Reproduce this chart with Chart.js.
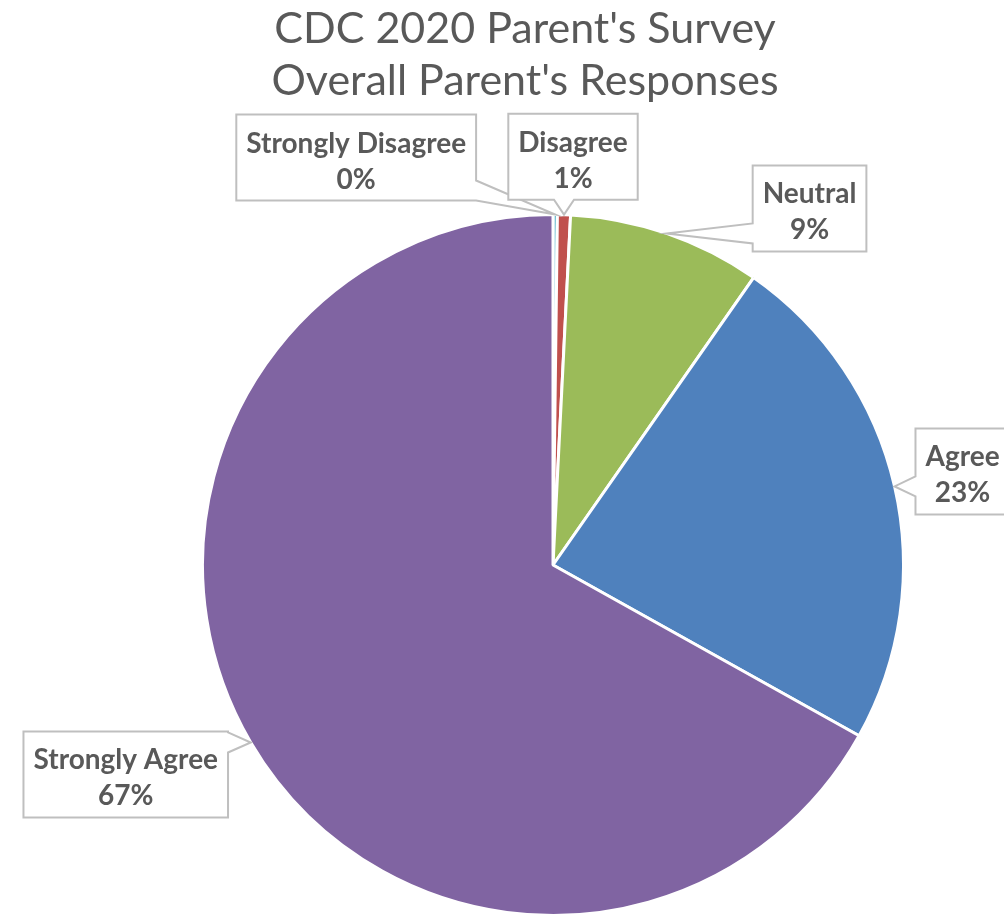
<!DOCTYPE html>
<html>
<head>
<meta charset="utf-8">
<script src="https://cdn.jsdelivr.net/npm/chart.js@4/dist/chart.umd.min.js"></script>
<style>
  html, body { margin: 0; padding: 0; background: #ffffff; }
  #wrap { width: 1004px; height: 917px; position: relative; }
</style>
</head>
<body>
<div id="wrap"><canvas id="pieChart" width="1004" height="917"></canvas></div>
<script>
// Data
const titleLines = ["CDC 2020 Parent's Survey", "Overall Parent's Responses"];
const categories = ['Strongly Disagree', 'Disagree', 'Neutral', 'Agree', 'Strongly Agree'];
const responseShare = [0.2, 0.6, 8.9, 23.4, 66.9];
const sliceColors = ['#4BACC6', '#C0504D', '#9BBB59', '#4F81BD', '#8064A2'];

// where each callout box sits, relative to the slice edge it points at
const calloutOffsets = [[-199, -57], [9, -58], [143, -25], [68, -15], [-125, 32]];

const textGrey = '#595959';
const labelFont = 'bold 28px Lato, "Open Sans", sans-serif';

function drawCallout(ctx, box, tip) {
    const l = box.l, t = box.t, r = box.r, b = box.b;
    const w = 10;
    let side;
    if (tip.x >= l && tip.x <= r) side = tip.y < t ? 'top' : 'bottom';
    else if (tip.y >= t && tip.y <= b) side = tip.x < l ? 'left' : 'right';
    else {
        const dx = tip.x < l ? l - tip.x : tip.x - r;
        const dy = tip.y < t ? t - tip.y : tip.y - b;
        if (dx > dy) side = tip.x < l ? 'left' : 'right';
        else side = tip.y < t ? 'top' : 'bottom';
    }
    const cx = Math.min(Math.max(tip.x, l + w), r - w);
    const cy = Math.min(Math.max(tip.y, t + w), b - w);

    ctx.beginPath();
    ctx.moveTo(l, t);
    if (side === 'top') { ctx.lineTo(cx - w, t); ctx.lineTo(tip.x, tip.y); ctx.lineTo(cx + w, t); }
    ctx.lineTo(r, t);
    if (side === 'right') { ctx.lineTo(r, cy - w); ctx.lineTo(tip.x, tip.y); ctx.lineTo(r, cy + w); }
    ctx.lineTo(r, b);
    if (side === 'bottom') { ctx.lineTo(cx + w, b); ctx.lineTo(tip.x, tip.y); ctx.lineTo(cx - w, b); }
    ctx.lineTo(l, b);
    if (side === 'left') { ctx.lineTo(l, cy + w); ctx.lineTo(tip.x, tip.y); ctx.lineTo(l, cy - w); }
    ctx.closePath();
    ctx.fillStyle = '#ffffff';
    ctx.fill();
    ctx.lineWidth = 2;
    ctx.strokeStyle = '#bfbfbf';
    ctx.stroke();
}

// title + callout labels
const calloutPlugin = {
    id: 'callouts',
    afterDatasetsDraw(chart) {
        const ctx = chart.ctx;
        const meta = chart.getDatasetMeta(0);
        const total = responseShare.reduce((a, v) => a + v, 0);

        ctx.save();
        ctx.fillStyle = textGrey;
        ctx.textAlign = 'center';
        ctx.textBaseline = 'alphabetic';
        ctx.font = '43px Lato, "Open Sans", sans-serif';
        ctx.fillText(titleLines[0], 525, 43);
        ctx.fillText(titleLines[1], 525, 95);

        ctx.font = labelFont;
        meta.data.forEach((arc, i) => {
            const p = arc.getProps(['x', 'y', 'startAngle', 'endAngle', 'outerRadius'], true);
            const mid = (p.startAngle + p.endAngle) / 2;
            const tip = {
                x: p.x + Math.cos(mid) * p.outerRadius,
                y: p.y + Math.sin(mid) * p.outerRadius
            };
            const pct = Math.round(responseShare[i] / total * 100) + '%';
            const tw = Math.max(ctx.measureText(categories[i]).width, ctx.measureText(pct).width);
            const bw = tw + 20;
            const bh = 86;
            const bx = tip.x + calloutOffsets[i][0];
            const by = tip.y + calloutOffsets[i][1];
            const box = { l: bx - bw / 2, r: bx + bw / 2, t: by - bh / 2, b: by + bh / 2 };
            drawCallout(ctx, box, tip);
            ctx.fillStyle = textGrey;
            ctx.fillText(categories[i], bx, box.t + 38);
            ctx.fillText(pct, bx, box.t + 74);
        });
        ctx.restore();
    }
};

const ctx = document.getElementById('pieChart').getContext('2d');
const pieChart = new Chart(ctx, {
    type: 'pie',
    data: {
        labels: categories,
        datasets: [{
            data: responseShare,
            backgroundColor: sliceColors,
            borderColor: '#ffffff',
            borderWidth: 3,
            hoverOffset: 0
        }]
    },
    options: {
        responsive: false,
        animation: false,
        layout: {
            padding: { left: 201, right: 99, top: 213, bottom: 0 }
        },
        plugins: {
            legend: { display: false },
            title: { display: false },
            tooltip: { enabled: false }
        }
    },
    plugins: [calloutPlugin]
});
</script>
</body>
</html>
